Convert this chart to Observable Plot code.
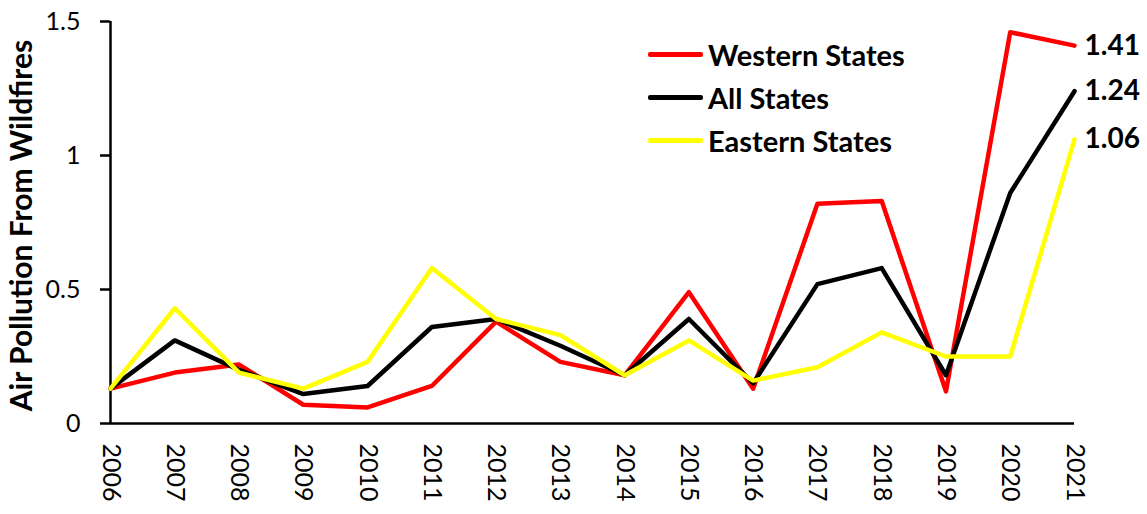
<!DOCTYPE html>
<html>
<head>
<meta charset="utf-8">
<script src="https://cdn.jsdelivr.net/npm/d3@7"></script>
<script src="https://cdn.jsdelivr.net/npm/@observablehq/plot@0.6"></script>
<style>
  html, body { margin: 0; padding: 0; background: #fff; }
  #wrap { position: relative; width: 1147px; height: 514px; font-family: Lato, "Open Sans", sans-serif; }
  #legend { position: absolute; left: 648px; top: 33px; font-weight: bold; font-size: 29px; color: #000; }
  #legend .row { display: flex; align-items: center; height: 43px; }
  #legend .sw { width: 55px; height: 5px; border-radius: 2px; margin-right: 5px; }
</style>
</head>
<body>
<div id="wrap"></div>
<script>
const years = [2006, 2007, 2008, 2009, 2010, 2011, 2012, 2013, 2014, 2015, 2016, 2017, 2018, 2019, 2020, 2021];
const seriesNames = ["Western States", "All States", "Eastern States"];
const seriesColors = ["#ff0000", "#000000", "#ffff00"];
const western   = [0.13, 0.19, 0.22, 0.07, 0.06, 0.14, 0.38, 0.23, 0.18, 0.49, 0.13, 0.82, 0.83, 0.12, 1.46, 1.41];
const allStates = [0.13, 0.31, 0.20, 0.11, 0.14, 0.36, 0.39, 0.29, 0.18, 0.39, 0.15, 0.52, 0.58, 0.18, 0.86, 1.24];
const eastern   = [0.13, 0.43, 0.19, 0.13, 0.23, 0.58, 0.39, 0.33, 0.18, 0.31, 0.16, 0.21, 0.34, 0.25, 0.25, 1.06];
const yTicks = [0, 0.5, 1, 1.5];
const yLabel = "Air Pollution From Wildfires";

const seriesValues = [western, allStates, eastern];
const data = [];
seriesNames.forEach((name, i) => {
  years.forEach((yr, j) => data.push({ series: name, year: yr, value: seriesValues[i][j] }));
});
const lastYear = years[years.length - 1];

const chart = Plot.plot({
  width: 1147,
  height: 514,
  marginLeft: 110,
  marginRight: 73,
  marginTop: 21,
  marginBottom: 91,
  style: { fontFamily: "Lato, 'Open Sans', sans-serif", color: "#000", background: "#fff", overflow: "visible" },
  x: { type: "linear", domain: [years[0], lastYear] },
  y: { domain: [0, 1.5] },
  color: { domain: seriesNames, range: seriesColors },
  marks: [
    Plot.axisY({ ticks: yTicks, tickFormat: d => String(d), tickSize: 10, tickPadding: 20, fontSize: 25, label: null, strokeWidth: 2.5 }),
    Plot.axisX({ ticks: years, tickFormat: d => String(d), tickSize: 0, tickPadding: 20, tickRotate: 90, fontSize: 25, label: null }),
    Plot.ruleX([years[0]], { stroke: "#000", strokeWidth: 2.5 }),
    Plot.ruleY([0], { stroke: "#000", strokeWidth: 2.5 }),
    Plot.text([yLabel], { frameAnchor: "left", textAnchor: "middle", rotate: -90, dx: -88, dy: 3, fontSize: 30, fontWeight: "bold", fill: "#000" }),
    Plot.lineY(data, { x: "year", y: "value", stroke: "series", strokeWidth: 4.5 }),
    Plot.text(data.filter(d => d.year === lastYear), { x: "year", y: "value", text: d => d.value.toFixed(2), dx: 10, textAnchor: "start", fontSize: 28, fontWeight: "bold", fill: "#000" })
  ]
});
const wrap = document.getElementById("wrap");
wrap.appendChild(chart);

const legend = document.createElement("div");
legend.id = "legend";
seriesNames.forEach((n, i) => {
  const row = document.createElement("div");
  row.className = "row";
  const sw = document.createElement("div");
  sw.className = "sw";
  sw.style.background = seriesColors[i];
  const t = document.createElement("span");
  t.textContent = n;
  row.appendChild(sw);
  row.appendChild(t);
  legend.appendChild(row);
});
wrap.appendChild(legend);
</script>
</body>
</html>
